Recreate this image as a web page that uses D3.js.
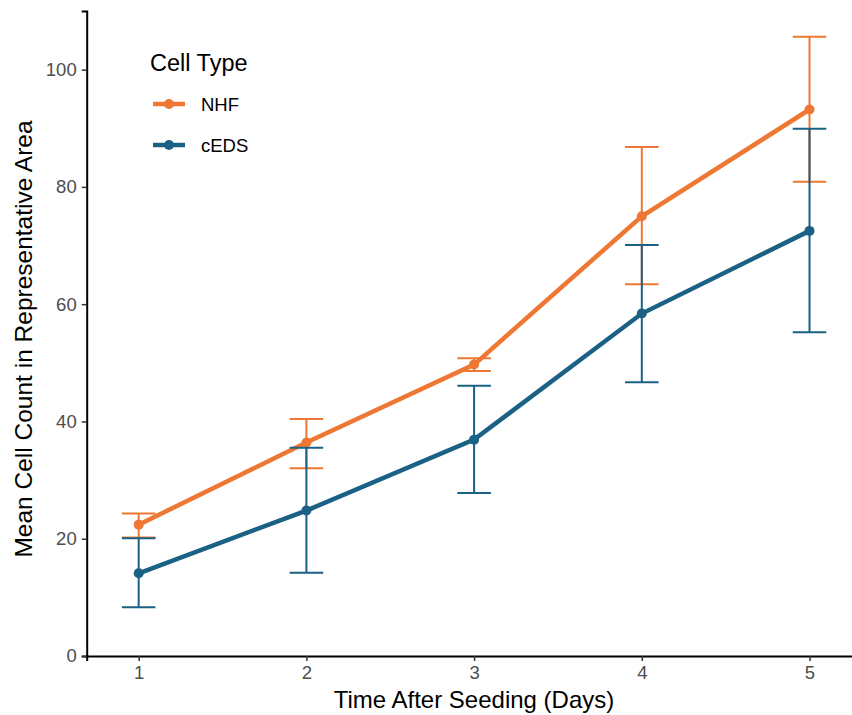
<!DOCTYPE html>
<meta charset="utf-8">
<style>
body { margin: 0; background: #fff; }
svg text { font-family: "Liberation Sans", Arial, sans-serif; }
</style>
<body>
<script src="https://cdn.jsdelivr.net/npm/d3@7"></script>
<script>
// data
var days = [1, 2, 3, 4, 5];
var nhfMean  = [22.4, 36.4, 49.7, 75.0, 93.2];
var nhfUpper = [24.3, 40.4, 50.8, 86.8, 105.6];
var nhfLower = [20.2, 32.0, 48.6, 63.4, 80.9];
var cedsMean  = [14.1, 24.8, 36.9, 58.4, 72.5];
var cedsUpper = [20.1, 35.5, 46.1, 70.1, 89.9];
var cedsLower = [8.3, 14.2, 27.8, 46.7, 55.2];
var seriesNames = ["NHF", "cEDS"];
var yTicks = [0, 20, 40, 60, 80, 100];

var colors = {NHF: "#EE7733", cEDS: "#1A6185"};

var width = 852, height = 715;
var svg = d3.select("body").append("svg")
    .attr("width", width)
    .attr("height", height);

// scales
var x = d3.scaleLinear().domain([0.69, 5.31]).range([86.7, 861.5]);
var y = d3.scaleLinear().domain([0, 110]).range([656, 11]);

function build(name, mean, lo, hi) {
  return days.map(function(d, i) {
    return {name: name, day: d, mean: mean[i], lo: lo[i], hi: hi[i]};
  });
}
var series = [
  build("NHF", nhfMean, nhfLower, nhfUpper),
  build("cEDS", cedsMean, cedsLower, cedsUpper)
];

// axes
var xAxis = svg.append("g")
    .attr("transform", "translate(0,656)")
    .call(d3.axisBottom(x).tickValues(days).tickFormat(d3.format("d")).tickSize(5).tickPadding(5));
var yAxis = svg.append("g")
    .attr("transform", "translate(86.7,0)")
    .call(d3.axisLeft(y).tickValues(yTicks).tickSize(5).tickPadding(5));

[xAxis, yAxis].forEach(function(a) {
  a.attr("font-size", null).attr("font-family", null);
  a.select(".domain").attr("stroke", "#000").attr("stroke-width", 2);
  a.selectAll(".tick line").attr("stroke", "#333").attr("stroke-width", 1.5);
  a.selectAll(".tick text").style("font-size", "18.5px").style("fill", "#4d4d4d");
});

// axis titles
svg.append("text")
    .attr("x", 474)
    .attr("y", 708)
    .attr("text-anchor", "middle")
    .style("font-size", "24px")
    .text("Time After Seeding (Days)");

svg.append("text")
    .attr("transform", "translate(32,339) rotate(-90)")
    .attr("text-anchor", "middle")
    .style("font-size", "24.5px")
    .text("Mean Cell Count in Representative Area");

var line = d3.line()
    .x(function(d) { return x(d.day); })
    .y(function(d) { return y(d.mean); });

var capW = 0.1;

series.forEach(function(s) {
  var c = colors[s[0].name];
  var g = svg.append("g");
  // error bars
  var eb = g.selectAll(".eb").data(s).enter().append("g");
  eb.append("line")
      .attr("x1", function(d) { return x(d.day); })
      .attr("x2", function(d) { return x(d.day); })
      .attr("y1", function(d) { return y(d.lo); })
      .attr("y2", function(d) { return y(d.hi); })
      .attr("stroke", c).attr("stroke-width", 2);
  eb.append("line")
      .attr("x1", function(d) { return x(d.day - capW); })
      .attr("x2", function(d) { return x(d.day + capW); })
      .attr("y1", function(d) { return y(d.hi); })
      .attr("y2", function(d) { return y(d.hi); })
      .attr("stroke", c).attr("stroke-width", 2);
  eb.append("line")
      .attr("x1", function(d) { return x(d.day - capW); })
      .attr("x2", function(d) { return x(d.day + capW); })
      .attr("y1", function(d) { return y(d.lo); })
      .attr("y2", function(d) { return y(d.lo); })
      .attr("stroke", c).attr("stroke-width", 2);
  // line
  g.append("path")
      .datum(s)
      .attr("fill", "none")
      .attr("stroke", c)
      .attr("stroke-width", 4.5)
      .attr("d", line);
  // points
  g.selectAll("circle").data(s).enter().append("circle")
      .attr("cx", function(d) { return x(d.day); })
      .attr("cy", function(d) { return y(d.mean); })
      .attr("r", 5)
      .attr("fill", c);
});

// legend
var legend = svg.append("g");
legend.append("text")
    .attr("x", 150)
    .attr("y", 71)
    .style("font-size", "23.5px")
    .text("Cell Type");

seriesNames.forEach(function(n, i) {
  var ly = 104 + i * 41;
  legend.append("line")
      .attr("x1", 153).attr("x2", 185)
      .attr("y1", ly).attr("y2", ly)
      .attr("stroke", colors[n]).attr("stroke-width", 4.5);
  legend.append("circle")
      .attr("cx", 169).attr("cy", ly).attr("r", 5)
      .attr("fill", colors[n]);
  legend.append("text")
      .attr("x", 201)
      .attr("y", ly + 6.5)
      .style("font-size", "18.5px")
      .text(n);
});
</script>
</body>
